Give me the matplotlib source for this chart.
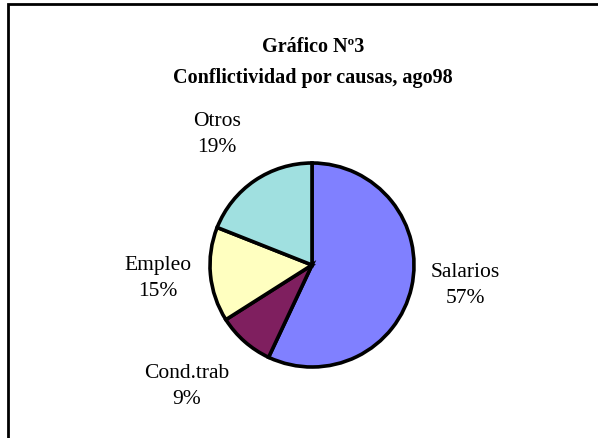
import numpy as np
import matplotlib
matplotlib.use('Agg')
import matplotlib.pyplot as plt

# data
causas = ['Salarios', 'Cond.trab', 'Empleo', 'Otros']
porcentajes = [57, 9, 15, 19]
colores = ['#8080FF', '#7F1F5F', '#FFFFC0', '#A0E0E0']
# label placement: distance (radii) and angle shift (deg) from slice middle
dist_lab = [1.52, 1.70, 1.52, 1.59]
giro_lab = [5.2, -4.8, -0.6, 1.8]

plt.rcParams['font.family'] = ['Liberation Serif', 'DejaVu Serif']

W, H = 598, 439
fig = plt.figure(figsize=(W / 100, H / 100), dpi=100)
ax = fig.add_axes([0, 0, 1, 1])

cx, cy, r = 312, H - 266, 102
wedges, _ = ax.pie(porcentajes, colors=colores, startangle=90, counterclock=False,
                   center=(cx, cy), radius=r, frame=True,
                   wedgeprops=dict(edgecolor='black', linewidth=2.6))
ax.set_xlim(0, W)
ax.set_ylim(0, H)
ax.axis('off')

for w, nom, p, d, g in zip(wedges, causas, porcentajes, dist_lab, giro_lab):
    ang = np.radians((w.theta1 + w.theta2) / 2 + g)
    x = cx + d * r * np.cos(ang)
    y = cy + d * r * np.sin(ang)
    ax.text(x, y, '%s\n%d%%' % (nom, p), ha='center', va='center',
            fontsize=15.5, linespacing=1.5)

ax.text(313, H - 47, 'Gráfico Nº3', ha='center', va='center', fontsize=14.5, fontweight='bold')
ax.text(313, H - 78, 'Conflictividad por causas, ago98', ha='center', va='center',
        fontsize=14.5, fontweight='bold')

# chart border
ax.plot([8, 8, W], [0, H - 5, H - 5], color='black', lw=2, solid_joinstyle='miter')

fig.savefig('out.png', dpi=100)
